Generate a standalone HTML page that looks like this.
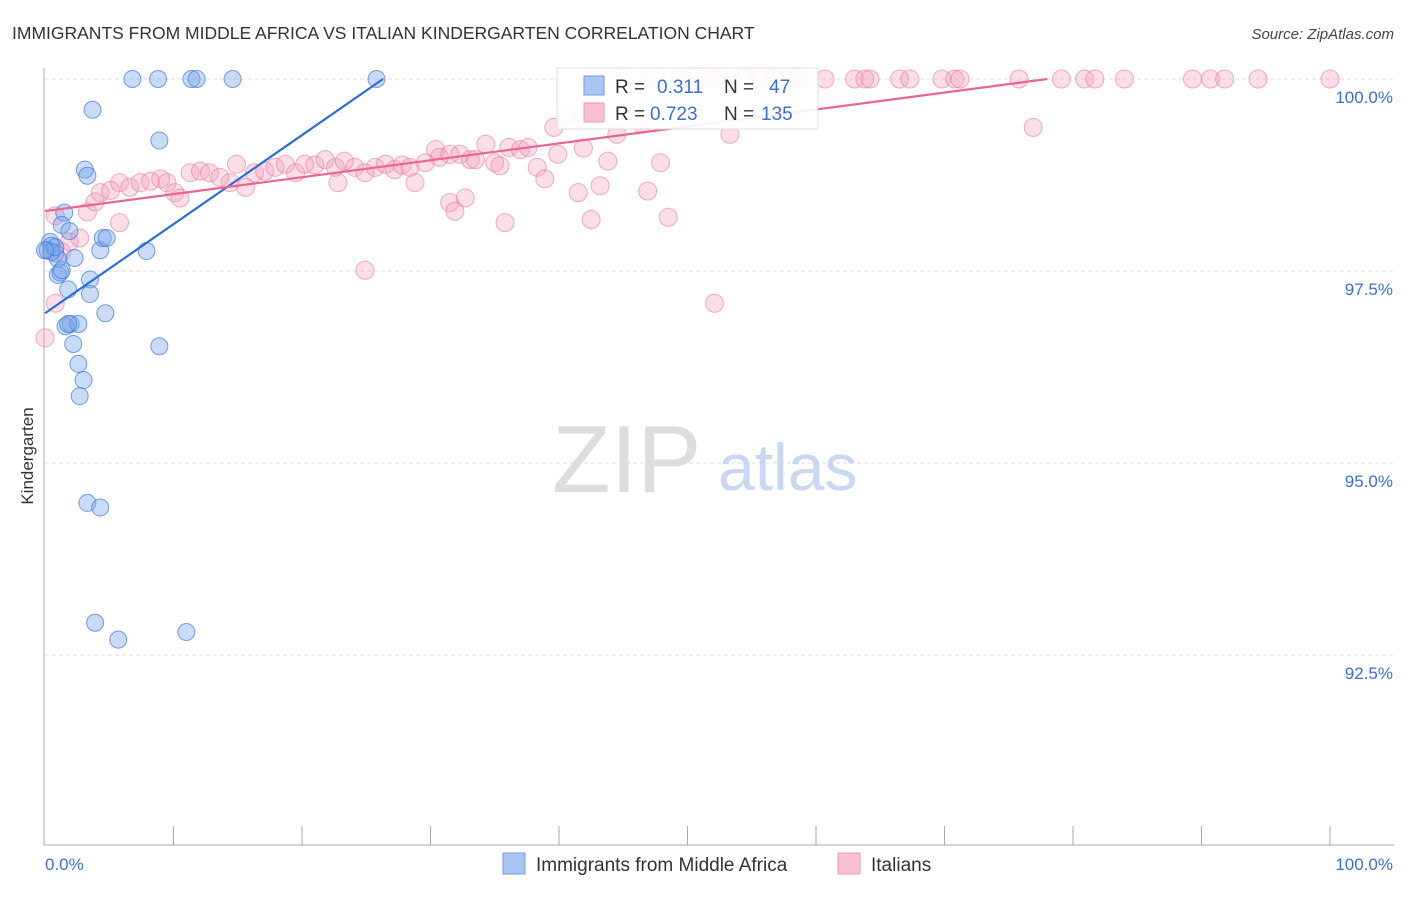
<!DOCTYPE html>
<html><head><meta charset="utf-8"><style>
body{margin:0;background:#fff;font-family:"Liberation Sans",sans-serif}
svg text{font-family:"Liberation Sans",sans-serif}
</style></head><body>
<svg id="c" width="1406" height="892"></svg>
<script>
const blueX=[6.8,8.8,11.4,11.8,14.6,25.8,3.7,8.9,3.1,3.3,1.5,1.3,1.9,0.4,0.5,0.2,0.8,1.0,2.3,4.3,4.5,4.8,7.9,1.0,1.2,3.5,1.8,3.5,4.7,2.0,1.6,2.6,2.2,8.9,2.6,3.0,2.7,3.3,4.3,3.9,5.7,11.0,0.5,0.8,0.0,1.8,1.3];
const blueY=[100,100,100,100,100,100,99.6,99.2,98.82,98.74,98.26,98.1,98.02,97.88,97.83,97.77,97.73,97.66,97.67,97.77,97.93,97.93,97.76,97.45,97.48,97.39,97.26,97.2,96.95,96.81,96.78,96.81,96.55,96.52,96.29,96.08,95.87,94.48,94.42,92.92,92.7,92.8,97.75,97.81,97.77,96.81,97.51];
const pinkX=[44.7,47.1,49.4,51,52.5,54.5,55.6,56.8,57.9,58.7,60.7,63,63.8,64.2,66.5,67.3,69.8,70.8,71.2,75.8,79.1,80.9,81.7,84,89.3,90.7,91.8,94.4,100,0,0.8,1.3,1.9,2.7,3.3,3.9,4.3,5.1,5.8,6.6,7.4,8.2,9,9.5,10.1,10.5,11.3,12.1,12.8,13.6,14.4,14.9,15.6,16.3,17.1,17.9,18.7,19.5,20.2,21,21.8,22.6,23.3,24.1,24.9,25.7,26.5,27.2,27.8,28.4,28.8,29.6,30.4,30.7,31.5,32.3,33.1,33.5,34.3,35,35.4,36.1,37,37.6,38.3,38.9,39.6,39.9,40.6,41.5,41.9,42.5,43.2,43.8,44.5,46.5,46.9,47.9,48.5,52.1,53.3,76.9,22.8,24.9,31.5,32.7,35.8,31.9,5.8,0.8];
const pinkY=[100,100,100,100,100,100,100,100,100,100,100,100,100,100,100,100,100,100,100,100,100,100,100,100,100,100,100,100,100,96.63,97.08,97.75,97.88,97.93,98.27,98.4,98.52,98.55,98.65,98.59,98.65,98.67,98.7,98.65,98.52,98.45,98.78,98.8,98.78,98.72,98.65,98.89,98.59,98.78,98.8,98.85,98.89,98.78,98.89,98.88,98.95,98.85,98.93,98.85,98.78,98.85,98.89,98.82,98.88,98.85,98.65,98.91,99.08,98.98,99.02,99.02,98.95,98.95,99.15,98.91,98.87,99.11,99.08,99.11,98.85,98.7,99.37,99.02,99.54,98.52,99.1,98.17,98.61,98.93,99.28,99.41,98.54,98.91,98.2,97.08,99.28,99.37,98.65,97.51,98.39,98.45,98.13,98.28,98.13,98.22,97.93,97.75];
const blueLine=[[0,96.95],[26.3,100]];
const pinkLine=[[0,98.28],[78,100]];
const yTicks=[100,97.5,95,92.5];
const yTickLabels=["100.0%","97.5%","95.0%","92.5%"];
const xs=v=>45+v*12.85, ys=v=>79+(100-v)*76.8;
const svg=document.getElementById('c'),NS="http://www.w3.org/2000/svg";
function el(t,a,txt){const e=document.createElementNS(NS,t);for(const k in a)e.setAttribute(k,a[k]);if(txt!=null)e.textContent=txt;svg.appendChild(e);return e;}
let e;
e=el('text',{x:12,y:39,'font-size':17.5,fill:'#333'},'IMMIGRANTS FROM MIDDLE AFRICA VS ITALIAN KINDERGARTEN CORRELATION CHART');

e=el('text',{x:1394,y:39,'font-size':15,fill:'#444','text-anchor':'end','font-style':'italic'},'Source: ZipAtlas.com');

yTicks.forEach((t,i)=>{
 e=el('line',{x1:45,x2:1394,y1:ys(t),y2:ys(t),stroke:'#ddd','stroke-dasharray':'4,3'});
 
 e=el('text',{x:1393,y:ys(t)+24,'font-size':17,fill:'#3b6fd6','text-anchor':'end'},yTickLabels[i]);
 
});
e=el('line',{x1:44,x2:44,y1:68,y2:845,stroke:'#aaa'});
e=el('line',{x1:44,x2:1394,y1:845,y2:845,stroke:'#aaa'});
for(let i=1;i<=10;i++){e=el('line',{x1:xs(i*10),x2:xs(i*10),y1:826,y2:845,stroke:'#aaa'});}
e=el('text',{x:45,y:870,'font-size':17,fill:'#3b6fd6'},'0.0%');
e=el('text',{x:1393,y:870,'font-size':17,fill:'#3b6fd6','text-anchor':'end'},'100.0%');
e=el('text',{x:33,y:456,'font-size':17,fill:'#333','text-anchor':'middle',transform:'rotate(-90 33 456)'},'Kindergarten');

e=el('text',{x:552,y:492,'font-size':96,fill:'#ddd','font-family':'Liberation Serif'},'ZIP');
e=el('text',{x:718,y:490,'font-size':66,fill:'#c8d8f0'},'atlas');
pinkX.forEach((x,i)=>{e=el('circle',{cx:xs(x),cy:ys(pinkY[i]),r:9,fill:'rgba(244,160,185,0.35)',stroke:'rgba(232,120,155,0.6)','stroke-width':1});
 });
blueX.forEach((x,i)=>{e=el('circle',{cx:xs(x),cy:ys(blueY[i]),r:8.5,fill:'rgba(120,165,235,0.4)',stroke:'rgba(60,120,220,0.7)','stroke-width':1});
 });
e=el('line',{x1:xs(blueLine[0][0]),y1:ys(blueLine[0][1]),x2:xs(blueLine[1][0]),y2:ys(blueLine[1][1]),stroke:'#2a6dd6','stroke-width':2.2});

e=el('line',{x1:xs(pinkLine[0][0]),y1:ys(pinkLine[0][1]),x2:xs(pinkLine[1][0]),y2:ys(pinkLine[1][1]),stroke:'#e8658f','stroke-width':2.2});

// legend box
e=el('rect',{x:557,y:68,width:261,height:61,fill:'rgba(255,255,255,0.9)',stroke:'#ddd'});
e=el('rect',{x:584,y:76,width:20,height:19,fill:'#a9c6f2',stroke:'#6f9ee6'});
e=el('rect',{x:584,y:103,width:20,height:19,fill:'#f8c0d0',stroke:'#ee9ab3'});
[['R = ',615,93,'#333'],['0.311',657,93,'#3b6fd6'],['N = ',724,93,'#333'],['47',769,93,'#3b6fd6'],
 ['R = ',615,120,'#333'],['0.723',650,120,'#3b6fd6'],['N = ',724,120,'#333'],['135',761,120,'#3b6fd6']].forEach(a=>{
 e=el('text',{x:a[1],y:a[2],'font-size':19,fill:a[3]},a[0]);});
// bottom legend
e=el('rect',{x:503,y:853,width:22,height:21,fill:'#a9c6f2',stroke:'#6f9ee6'});
e=el('text',{x:536,y:871,'font-size':19,fill:'#333'},'Immigrants from Middle Africa');
e=el('rect',{x:838,y:853,width:22,height:21,fill:'#f8c0d0',stroke:'#ee9ab3'});
e=el('text',{x:871,y:871,'font-size':19,fill:'#333'},'Italians');
</script>
</body></html>
